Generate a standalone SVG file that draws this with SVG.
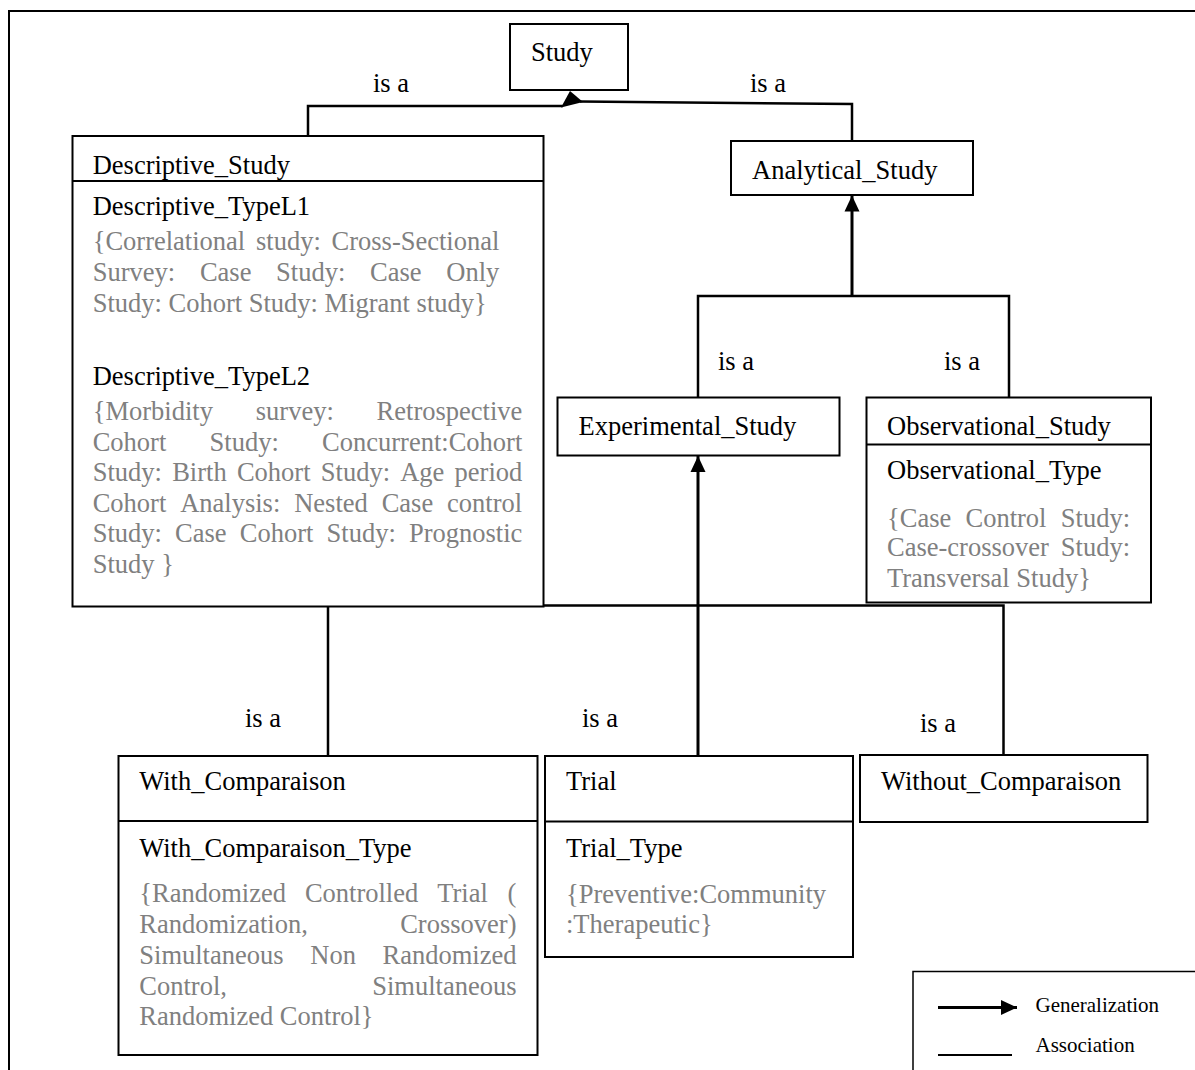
<svg xmlns="http://www.w3.org/2000/svg" width="1195" height="1070" viewBox="0 0 1195 1070">
  <style>
    .box { fill: #ffffff; stroke: #000000; stroke-width: 2; }
    .div { stroke: #000000; stroke-width: 2; fill: none; }
    .t { font-family: "Liberation Serif", "Times New Roman", serif; font-size: 26.5px; fill: #000000; }
    .g { font-family: "Liberation Serif", "Times New Roman", serif; font-size: 26.5px; fill: #808080; }
    .lg { font-family: "Liberation Serif", "Times New Roman", serif; font-size: 21px; fill: #000000; }
    .link { stroke: #000000; stroke-width: 2.5; fill: none; }
    .gen { stroke: #000000; stroke-width: 3; fill: none; marker-end: url(#head); }
  </style>
  <defs>
    <marker id="head" viewBox="0 0 16 16" refX="16" refY="8" markerWidth="16" markerHeight="16" markerUnits="userSpaceOnUse" orient="auto">
      <path d="M0,0.5 L16,8 L0,15.5 Z" fill="#000000"/>
    </marker>
  </defs>

  <!-- frame -->
  <path d="M9,1070 V11 H1195" fill="none" stroke="#000000" stroke-width="2"/>

  <!-- connectors -->
  <g id="connectors">
    <polyline class="link" points="308,136 308,106 563,106"/>
    <polyline class="link" points="852,141 852,104 580,101.5"/>
    <polygon points="570,91 561,107.5 583,102" fill="#000000"/>
    <text class="t" x="373" y="92">is a</text>
    <text class="t" x="750" y="92">is a</text>

    <polyline class="link" points="698,398 698,296 1009,296 1009,398"/>
    <line class="gen" x1="852" y1="296" x2="852" y2="195.5"/>
    <text class="t" x="718" y="370">is a</text>
    <text class="t" x="944" y="370">is a</text>

    <polyline class="link" points="328,756 328,605.5 1003.5,605.5 1003.5,755"/>
    <line class="gen" x1="698" y1="756" x2="698" y2="456"/>
    <text class="t" x="245" y="727">is a</text>
    <text class="t" x="582" y="727">is a</text>
    <text class="t" x="920" y="732">is a</text>
  </g>

  <!-- Study -->
  <g id="study">
    <rect class="box" x="510" y="24" width="118" height="66"/>
    <text class="t" x="531" y="61">Study</text>
  </g>

  <!-- Descriptive_Study -->
  <g id="descriptive-study">
    <rect class="box" x="72.5" y="136" width="471" height="470.5"/>
    <line class="div" x1="72.5" y1="181" x2="543.5" y2="181"/>
    <text class="t" x="92.7" y="174">Descriptive_Study</text>
    <text class="t" x="92.7" y="215">Descriptive_TypeL1</text>
    <text class="g" y="250"><tspan x="92.7">{Correlational</tspan><tspan x="256">study:</tspan><tspan x="331.5">Cross-Sectional</tspan></text>
    <text class="g" y="281"><tspan x="92.7">Survey:</tspan><tspan x="199.9">Case</tspan><tspan x="276.1">Study:</tspan><tspan x="370">Case</tspan><tspan x="446.3">Only</tspan></text>
    <text class="g" x="92.7" y="312">Study: Cohort Study: Migrant study}</text>
    <text class="t" x="92.7" y="385">Descriptive_TypeL2</text>
    <text class="g" y="420"><tspan x="92.7">{Morbidity</tspan><tspan x="255.8">survey:</tspan><tspan x="376.6">Retrospective</tspan></text>
    <text class="g" y="450.5"><tspan x="92.7">Cohort</tspan><tspan x="209.6">Study:</tspan><tspan x="322.1">Concurrent:Cohort</tspan></text>
    <text class="g" y="481"><tspan x="92.7">Study:</tspan><tspan x="172.2">Birth</tspan><tspan x="236.9">Cohort</tspan><tspan x="320.8">Study:</tspan><tspan x="400.2">Age</tspan><tspan x="454.6">period</tspan></text>
    <text class="g" y="511.5"><tspan x="92.7">Cohort</tspan><tspan x="180.2">Analysis:</tspan><tspan x="294.2">Nested</tspan><tspan x="381.7">Case</tspan><tspan x="447.1">control</tspan></text>
    <text class="g" y="542"><tspan x="92.7">Study:</tspan><tspan x="175.1">Case</tspan><tspan x="239.8">Cohort</tspan><tspan x="326.6">Study:</tspan><tspan x="408.9">Prognostic</tspan></text>
    <text class="g" x="92.7" y="572.5">Study }</text>
  </g>

  <!-- Analytical_Study -->
  <g id="analytical-study">
    <rect class="box" x="731" y="141" width="242" height="54"/>
    <text class="t" x="752" y="178.5">Analytical_Study</text>
  </g>

  <!-- Experimental_Study -->
  <g id="experimental-study">
    <rect class="box" x="557.5" y="397.5" width="282" height="58"/>
    <text class="t" x="578.5" y="435">Experimental_Study</text>
  </g>

  <!-- Observational_Study -->
  <g id="observational-study">
    <rect class="box" x="866.5" y="397.5" width="284.5" height="205"/>
    <line class="div" x1="866.5" y1="444.5" x2="1151" y2="444.5"/>
    <text class="t" x="887" y="435">Observational_Study</text>
    <text class="t" x="887" y="478.5">Observational_Type</text>
    <text class="g" y="526.5"><tspan x="887">{Case</tspan><tspan x="965.5">Control</tspan><tspan x="1060.8">Study:</tspan></text>
    <text class="g" y="556"><tspan x="887">Case-crossover</tspan><tspan x="1060.8">Study:</tspan></text>
    <text class="g" x="887" y="586.5">Transversal Study}</text>
  </g>

  <!-- With_Comparaison -->
  <g id="with-comparaison">
    <rect class="box" x="118.5" y="756" width="419" height="299"/>
    <line class="div" x1="118.5" y1="821" x2="537.5" y2="821"/>
    <text class="t" x="139.3" y="790">With_Comparaison</text>
    <text class="t" x="139.3" y="857">With_Comparaison_Type</text>
    <text class="g" y="902"><tspan x="139.3">{Randomized</tspan><tspan x="304.9">Controlled</tspan><tspan x="437.2">Trial</tspan><tspan x="507.6">(</tspan></text>
    <text class="g" y="933"><tspan x="139.3">Randomization,</tspan><tspan x="400.2">Crossover)</tspan></text>
    <text class="g" y="964"><tspan x="139.3">Simultaneous</tspan><tspan x="310.3">Non</tspan><tspan x="382.5">Randomized</tspan></text>
    <text class="g" y="995"><tspan x="139.3">Control,</tspan><tspan x="372.2">Simultaneous</tspan></text>
    <text class="g" x="139.3" y="1025">Randomized Control}</text>
  </g>

  <!-- Trial -->
  <g id="trial">
    <rect class="box" x="545" y="756" width="308" height="201"/>
    <line class="div" x1="545" y1="821.5" x2="853" y2="821.5"/>
    <text class="t" x="566" y="790">Trial</text>
    <text class="t" x="566" y="857">Trial_Type</text>
    <text class="g" x="566" y="903" textLength="260" lengthAdjust="spacing">{Preventive:Community</text>
    <text class="g" x="566" y="933">:Therapeutic}</text>
  </g>

  <!-- Without_Comparaison -->
  <g id="without-comparaison">
    <rect class="box" x="860" y="755" width="287.5" height="67"/>
    <text class="t" x="881" y="790">Without_Comparaison</text>
  </g>

  <!-- legend -->
  <g id="legend">
    <rect x="913" y="971.5" width="300" height="120" fill="#ffffff" stroke="#000000" stroke-width="1.5"/>
    <line class="gen" x1="938" y1="1007.5" x2="1017" y2="1007.5"/>
    <text class="lg" x="1035.5" y="1011.5">Generalization</text>
    <line x1="938" y1="1055" x2="1012" y2="1055" stroke="#000000" stroke-width="2"/>
    <text class="lg" x="1035.5" y="1051.5">Association</text>
  </g>
</svg>
